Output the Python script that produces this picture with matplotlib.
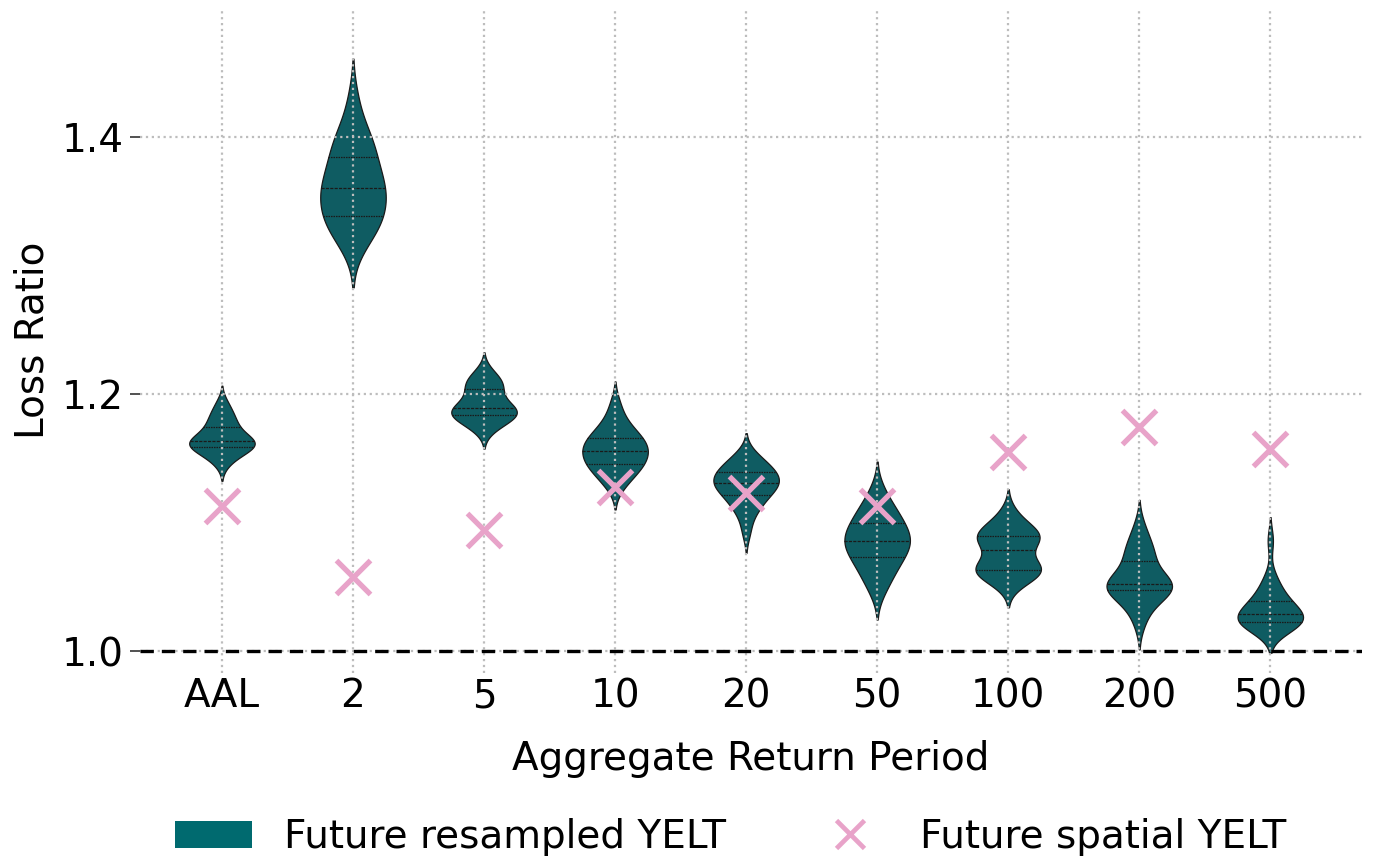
import numpy as np
import pandas as pd
import matplotlib
matplotlib.use("Agg")
import matplotlib.pyplot as plt
import seaborn as sns
from matplotlib.patches import Patch
from matplotlib.lines import Line2D

# return periods on the x axis
periods = ["AAL", "2", "5", "10", "20", "50", "100", "200", "500"]

# resampled YELT loss ratios (sample values)
resampled = {
    "AAL": [1.146, 1.151, 1.154, 1.156, 1.158, 1.159, 1.160, 1.161, 1.162, 1.163,
            1.164, 1.165, 1.167, 1.169, 1.174, 1.176, 1.179, 1.183, 1.187, 1.193],
    "2": [1.316, 1.324, 1.330, 1.334, 1.336, 1.339, 1.347, 1.351, 1.355, 1.358,
          1.362, 1.365, 1.369, 1.375, 1.383, 1.390, 1.394, 1.399, 1.406, 1.428],
    "5": [1.172, 1.176, 1.179, 1.181, 1.183, 1.184, 1.185, 1.186, 1.187, 1.188,
          1.190, 1.192, 1.195, 1.199, 1.203, 1.206, 1.208, 1.210, 1.213, 1.218],
    "10": [1.128, 1.134, 1.138, 1.141, 1.144, 1.146, 1.148, 1.150, 1.153, 1.155,
           1.157, 1.159, 1.161, 1.163, 1.165, 1.168, 1.171, 1.175, 1.181, 1.192],
    "20": [1.093, 1.106, 1.111, 1.116, 1.119, 1.122, 1.125, 1.127, 1.129, 1.130,
           1.132, 1.133, 1.135, 1.137, 1.139, 1.141, 1.143, 1.146, 1.149, 1.153],
    "50": [1.047, 1.055, 1.061, 1.066, 1.070, 1.074, 1.077, 1.080, 1.083, 1.085,
           1.087, 1.089, 1.092, 1.095, 1.099, 1.102, 1.106, 1.110, 1.115, 1.125],
    "100": [1.052, 1.057, 1.060, 1.062, 1.062, 1.063, 1.065, 1.066, 1.068, 1.075,
            1.082, 1.085, 1.087, 1.088, 1.089, 1.091, 1.093, 1.096, 1.100, 1.108],
    "200": [1.022, 1.032, 1.038, 1.043, 1.046, 1.048, 1.049, 1.050, 1.051, 1.0515,
            1.0525, 1.054, 1.056, 1.062, 1.069, 1.073, 1.077, 1.081, 1.087, 1.097],
    "500": [1.017, 1.019, 1.020, 1.021, 1.022, 1.023, 1.024, 1.025, 1.026, 1.028,
            1.030, 1.032, 1.034, 1.036, 1.038, 1.042, 1.046, 1.051, 1.058, 1.086],
}

# spatial YELT loss ratios
spatial = [1.113, 1.058, 1.094, 1.128, 1.123, 1.113, 1.155, 1.174, 1.157]

violin_col = "#0f5c62"
legend_col = "#006a6f"
cross_col = "#e8a3c9"

rows = []
for p in periods:
    for v in resampled[p]:
        rows.append((p, v))
df = pd.DataFrame(rows, columns=["period", "ratio"])

plt.rcParams["font.family"] = "DejaVu Sans"
fig = plt.figure(figsize=(13.73, 8.61), dpi=100)
ax = fig.add_axes([0.102, 0.2184, 0.89, 0.7718])

sns.violinplot(data=df, x="period", y="ratio", order=periods, ax=ax,
               color=violin_col, saturation=1, width=0.5, density_norm="width",
               inner="quart", linewidth=0.9, linecolor="#1a1a1a")

ax.plot(np.arange(len(periods)), spatial, ls="none", marker="x",
        ms=24, mew=3.8, color=cross_col, zorder=5)

ax.axhline(1.0, color="black", ls="--", lw=2.4, dashes=(4, 2.4), zorder=6)

ax.set_xlim(-0.625, 8.70)
ax.set_ylim(0.983, 1.5)
ax.set_yticks([1.0, 1.2, 1.4])
ax.grid(True, ls=":", color="#bdbdbd", lw=1.6)
ax.set_axisbelow(False)
for s in ax.spines.values():
    s.set_visible(False)

ax.tick_params(labelsize=28)
ax.tick_params(axis="y", length=7, width=1.2, pad=5, color="#333333")
ax.tick_params(axis="x", length=0, pad=3)
ax.set_xlabel("Aggregate Return Period", fontsize=28, labelpad=18)
ax.set_ylabel("Loss Ratio", fontsize=28, labelpad=7)

handles = [Patch(facecolor=legend_col, edgecolor="none"),
           Line2D([], [], ls="none", marker="x", ms=20, mew=3.4, color=cross_col)]
fig.legend(handles, ["Future resampled YELT", "Future spatial YELT"],
           loc="center", bbox_to_anchor=(0.532, 0.028), ncol=2,
           frameon=False, fontsize=28, handlelength=2.0, handleheight=0.7,
           columnspacing=2.2, handletextpad=0.8)

fig.savefig("out.png", dpi=100)
